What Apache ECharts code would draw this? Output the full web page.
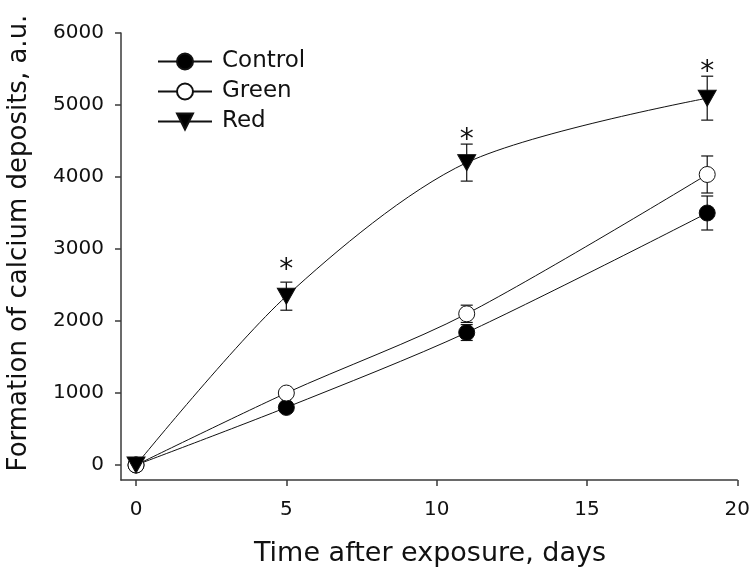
<!DOCTYPE html>
<html>
<head>
<meta charset="utf-8">
<script src="https://cdn.jsdelivr.net/npm/echarts@6/dist/echarts.min.js"></script>
<style>
  html, body { margin: 0; padding: 0; background: #fff; }
  #main { width: 753px; height: 573px; }
</style>
</head>
<body>
<div id="main"></div>
<script>
var days = [0, 5, 11, 19];
var control = [0, 800, 1840, 3500];
var controlErr = [0, 60, 110, 236];
var green = [0, 1000, 2100, 4035];
var greenErr = [0, 50, 120, 257];
var red = [0, 2345, 4200, 5095];
var redErr = [0, 195, 257, 305];
// where the "*" marks sit (value units), null = no mark
var redStar = [null, 2760, 4560, 5500];
var xTicks = [0, 5, 10, 15, 20];
var yTicks = [0, 1000, 2000, 3000, 4000, 5000, 6000];

var INK = '#111111';
var FONT = 'DejaVu Sans';
var triangle = 'path://M0,0L20,0L10,17Z';

function pairs(xs, ys) {
    var out = [];
    for (var i = 0; i < xs.length; i++) out.push([xs[i], ys[i]]);
    return out;
}
function errData(xs, ys, es, stars) {
    var out = [];
    for (var i = 0; i < xs.length; i++) {
        out.push([xs[i], ys[i], es[i], stars ? stars[i] : null]);
    }
    return out;
}

function renderErr(params, api) {
    var x = api.value(0), y = api.value(1), e = api.value(2), s = api.value(3);
    var children = [];
    if (e > 0) {
        var top = api.coord([x, y + e]);
        var bot = api.coord([x, y - e]);
        var st = { stroke: INK, lineWidth: 1.2 };
        children.push({ type: 'line', shape: { x1: top[0], y1: top[1], x2: bot[0], y2: bot[1] }, style: st });
        children.push({ type: 'line', shape: { x1: top[0] - 6, y1: top[1], x2: top[0] + 6, y2: top[1] }, style: st });
        children.push({ type: 'line', shape: { x1: bot[0] - 6, y1: bot[1], x2: bot[0] + 6, y2: bot[1] }, style: st });
    }
    if (s != null && !isNaN(s)) {
        var p = api.coord([x, s]);
        children.push({
            type: 'text',
            x: p[0], y: p[1] + 4,
            style: { text: '*', fill: INK, font: '28px ' + FONT, textAlign: 'center', textVerticalAlign: 'middle' }
        });
    }
    return { type: 'group', children: children };
}

function lineSeries(name, ys, symbol, size, fill) {
    return {
        name: name,
        type: 'line',
        data: pairs(days, ys),
        smooth: 0.3,
        symbol: symbol,
        symbolSize: size,
        showAllSymbol: true,
        lineStyle: { color: INK, width: 1 },
        itemStyle: { color: fill, borderColor: INK, borderWidth: 1 },
        emphasis: { disabled: true },
        z: 3
    };
}

var myChart = echarts.init(document.getElementById('main'));
var option = {
    backgroundColor: '#ffffff',
    animation: false,
    grid: { left: 121, right: 12, top: 33, bottom: 93 },
    legend: {
        left: 152,
        top: 45,
        orient: 'vertical',
        itemWidth: 54,
        itemHeight: 20,
        itemGap: 7,
        textStyle: { fontFamily: FONT, fontSize: 23, color: INK, padding: [0, 0, 0, 5] },
        data: ['Control', 'Green', 'Red']
    },
    xAxis: {
        type: 'value',
        min: -0.5,
        max: 20,
        splitLine: { show: false },
        axisLine: { onZero: false, lineStyle: { color: '#3a3a3a', width: 1.5 } },
        axisTick: { customValues: xTicks, length: 6, lineStyle: { color: '#3a3a3a', width: 1.5 } },
        axisLabel: { customValues: xTicks, margin: 20, fontFamily: FONT, fontSize: 20, color: INK }
    },
    yAxis: {
        type: 'value',
        min: -208,
        max: 6000,
        splitLine: { show: false },
        axisLine: { show: true, onZero: false, lineStyle: { color: '#3a3a3a', width: 1.5 } },
        axisTick: { show: true, customValues: yTicks, length: 6, lineStyle: { color: '#3a3a3a', width: 1.5 } },
        axisLabel: {
            customValues: yTicks, margin: 17, fontFamily: FONT, fontSize: 20, color: INK,
            formatter: function (v) { return String(v); }
        }
    },
    graphic: [
        {
            type: 'text', x: 430, y: 554,
            style: { text: 'Time after exposure, days', font: '27px ' + FONT, fill: INK, textAlign: 'center', textVerticalAlign: 'middle' }
        },
        {
            type: 'text', x: 19, y: 243, rotation: Math.PI / 2,
            style: { text: 'Formation of calcium deposits, a.u.', font: '26px ' + FONT, fill: INK, textAlign: 'center', textVerticalAlign: 'middle' }
        }
    ],
    series: [
        { type: 'custom', renderItem: renderErr, data: errData(days, control, controlErr), z: 1, silent: true },
        { type: 'custom', renderItem: renderErr, data: errData(days, green, greenErr), z: 1, silent: true },
        { type: 'custom', renderItem: renderErr, data: errData(days, red, redErr, redStar), z: 1, silent: true },
        lineSeries('Control', control, 'circle', 16, '#000000'),
        lineSeries('Green', green, 'circle', 16, '#ffffff'),
        lineSeries('Red', red, triangle, [18, 16], '#000000')
    ]
};
myChart.setOption(option);
</script>
</body>
</html>
